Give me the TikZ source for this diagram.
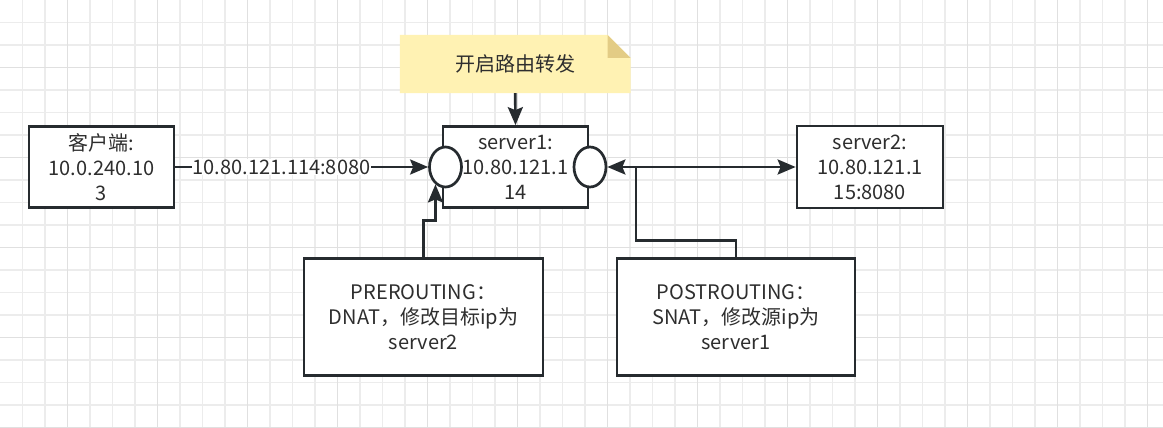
\documentclass[tikz,border=0pt]{standalone}
\usepackage{fontspec}
\setmainfont{Noto Sans CJK SC}
\usetikzlibrary{arrows.meta,shapes.geometric}
\definecolor{ln}{HTML}{262B2F}
\definecolor{tx}{HTML}{2E2E2E}
\definecolor{gmin}{HTML}{ECECEC}
\definecolor{gmaj}{HTML}{E0E0E0}
\definecolor{notef}{HTML}{FFF2B3}
\definecolor{foldc}{HTML}{E3CC85}
\begin{document}
\begin{tikzpicture}[x=1pt,y=-1pt,
  txt/.style={text=tx,font=\fontsize{20}{25}\selectfont,align=center},
  box/.style={txt,draw=ln,line width=2.7pt,fill=white,inner sep=0pt},
  port/.style={ellipse,draw=ln,line width=2.7pt,fill=white,minimum width=32pt,minimum height=40pt,inner sep=0pt},
  arr/.style={draw=ln,line width=2.7pt,-{Stealth[length=18pt,width=15pt,inset=3pt]}},
  arrb/.style={draw=ln,line width=2.7pt,{Stealth[length=18pt,width=15pt,inset=3pt]}-{Stealth[length=18pt,width=15pt,inset=3pt]}},
  plain/.style={draw=ln,line width=2.7pt},
  lbl/.style={txt,fill=white,inner sep=1pt}]
\useasboundingbox (0,0) rectangle (1163,428);
\fill[white] (0,0) rectangle (1163,428);
% grid
\foreach \i in {1,...,51} {\draw[gmin,line width=1.2pt] (\i*22.5,0) -- (\i*22.5,428);}
\foreach \i in {1,...,19} {\draw[gmin,line width=1.2pt] (0,\i*22.5) -- (1163,\i*22.5);}
\foreach \i in {0,...,12} {\draw[gmaj,line width=1.2pt] (67.5+\i*90,0) -- (67.5+\i*90,428);}
\foreach \i in {0,...,4} {\draw[gmaj,line width=1.2pt] (0,67.5+\i*90) -- (1163,67.5+\i*90);}
% note
\node[txt,minimum width=230.5pt,minimum height=58pt,inner sep=0pt] (note) at (515.25,64) {};
\fill[notef] (note.north west) -- (607.5,35) -- (630.5,58) -- (note.south east) -- (note.south west) -- cycle;
\fill[foldc] (607.5,35) -- (630.5,58) -- (607.5,58) -- cycle;
\node[txt] (notetext) at (note.center) {开启路由转发};
% boxes
\node[box,minimum width=145pt,minimum height=81pt] (cl) at (101.5,167) {客户端:\\10.0.240.10\\3};
\node[box,minimum width=145pt,minimum height=81pt] (s1) at (515.5,167) {server1:\\10.80.121.1\\14};
\node[box,minimum width=146pt,minimum height=82pt] (s2) at (870,167) {server2:\\10.80.121.1\\15:8080};
\node[box,minimum width=239pt,minimum height=117pt] (pre) at (423.5,317) {PREROUTING：\\DNAT，修改目标ip为\\server2};
\node[box,minimum width=238pt,minimum height=117pt] (post) at (736,317) {POSTROUTING：\\SNAT，修改源ip为\\server1};
\node[port] (lel) at (445.5,167) {};
\node[port] (rel) at (590,167) {};
\coordinate (jn) at (636,167);
% connectors
\draw[arr] (note.south) -- (s1.north);
\draw[arr] (cl.east) -- node[lbl,pos=0.42] {10.80.121.114:8080} (lel.west);
\draw[arrb] (rel.east) -- (s2.west);
\draw[arr] (pre.north) -- ++(0,-37) -| (lel.-120);
\draw[plain] (post.north) -- ++(0,-17) -| (jn);
\end{tikzpicture}
\end{document}
